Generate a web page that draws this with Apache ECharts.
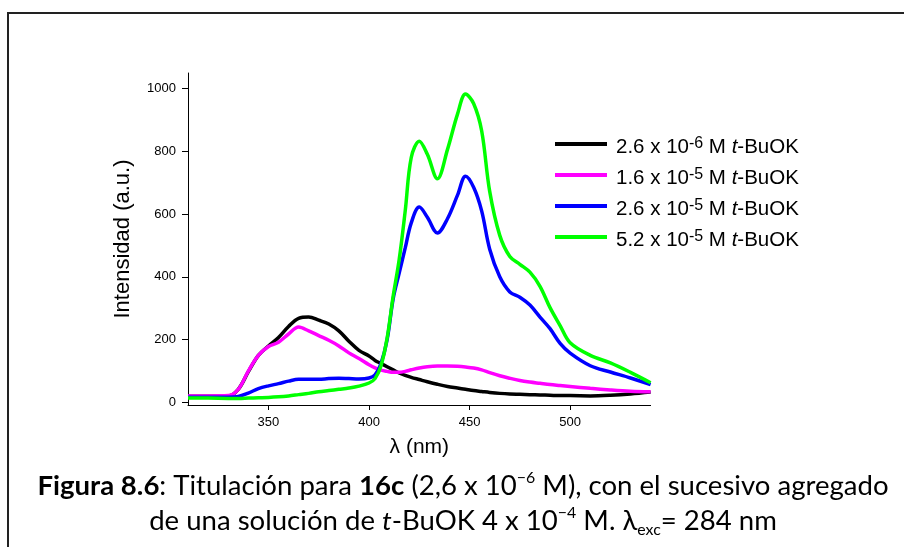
<!DOCTYPE html>
<html>
<head>
<meta charset="utf-8">
<script src="https://cdn.jsdelivr.net/npm/echarts@6/dist/echarts.min.js"></script>
<style>
  html, body { margin: 0; padding: 0; background: #fff; }
  #chart { width: 904px; height: 547px; }
</style>
</head>
<body>
<div id="chart"></div>
<script>
// ---- data ----
const wavelengths = [310,320,330,335,340,345,350,355,360,365,370,375,380,385,390,395,400,403,406,409,412,415,418,421,425,429,434,439,444,448,452,456,460,465,470,475,480,485,490,495,500,510,520,530,540];
const black26e6 = [20,20,21,42,98,150,180,207,242,268,272,262,250,228,195,166,148,134,124,114,104,94,86,80,73,66,58,51,46,42,38,35,32,29,27,26,25,24,23,22,22,21,23,27,33];
const magenta16e5 = [21,21,22,42,100,150,178,192,218,240,228,213,198,180,158,140,120,110,103,99,96,96,99,104,110,114,116,116,115,113,110,104,95,85,77,70,65,61,57,54,51,45,40,36,34];
const blue26e5 = [17,17,17,19,30,44,53,60,68,74,74,74,76,77,76,75,78,88,125,200,330,412,492,572,622,590,540,585,660,720,685,610,488,400,352,335,310,272,235,188,157,117,97,78,57];
const green52e5 = [14,14,13,13,14,15,16,18,21,25,29,34,38,42,46,52,62,76,118,205,338,455,610,780,832,790,712,805,918,982,952,865,672,532,465,440,415,370,302,245,190,150,126,96,63];

const concMantissa = ['2.6','1.6','2.6','5.2'];
const concExponent = ['-6','-5','-5','-5'];
const seriesColors = ['#000000','#ff00ff','#0000ff','#00ff00'];
const xTicks = [350,400,450,500];
const yTicks = [0,200,400,600,800,1000];

const seriesValues = [black26e6, magenta16e5, blue26e5, green52e5];
const seriesNames = concMantissa.map((m,i) => m + ' x 10^' + concExponent[i] + ' M t-BuOK');

const chart = echarts.init(document.getElementById('chart'), null, {renderer: 'canvas'});

const FONT = '"Liberation Sans", Arial, sans-serif';
const CAP = 'Lato, "Noto Sans", sans-serif';

const option = {
  backgroundColor: '#ffffff',
  animation: false,
  grid: { left: 188, right: 253.4, top: 73, bottom: 142 },
  legend: {
    orient: 'vertical',
    left: 555,
    top: 135.5,
    padding: 0,
    icon: 'rect',
    itemWidth: 52,
    itemHeight: 4,
    itemGap: 8.5,
    data: seriesNames,
    formatter: function (name) {
      const i = seriesNames.indexOf(name);
      return '{t|' + concMantissa[i] + ' x 10}{sup|' + concExponent[i] + '}{t| M }{it|t}{t|-BuOK}';
    },
    textStyle: {
      padding: [7, 0, 0, 4],
      rich: {
        t: { fontSize: 20.5, fontFamily: FONT, color: '#000', lineHeight: 24 },
        it: { fontSize: 20.5, fontFamily: FONT, color: '#000', fontStyle: 'italic', lineHeight: 24 },
        sup: { fontSize: 16, fontFamily: FONT, color: '#000', verticalAlign: 'top', lineHeight: 8 }
      }
    }
  },
  xAxis: {
    type: 'value',
    min: 310,
    max: 540,
    name: 'λ (nm)',
    nameLocation: 'middle',
    nameGap: 32,
    nameTextStyle: { fontSize: 21, fontFamily: FONT, color: '#000' },
    axisLine: { show: true, onZero: false, lineStyle: { color: '#000', width: 1 } },
    axisTick: { show: true, length: 5, lineStyle: { color: '#000' }, customValues: xTicks },
    axisLabel: { fontSize: 13, fontFamily: FONT, color: '#000', margin: 11, customValues: xTicks, formatter: v => String(v) },
    splitLine: { show: false }
  },
  yAxis: {
    type: 'value',
    min: -8,
    max: 1049,
    name: 'Intensidad (a.u.)',
    nameLocation: 'middle',
    nameGap: 54,
    nameTextStyle: { fontSize: 22, fontFamily: FONT, color: '#000' },
    axisLine: { show: true, onZero: false, lineStyle: { color: '#000', width: 1 } },
    axisTick: { show: true, length: 6, lineStyle: { color: '#000' }, customValues: yTicks },
    axisLabel: { fontSize: 13, fontFamily: FONT, color: '#000', margin: 12, customValues: yTicks, formatter: v => String(v) },
    splitLine: { show: false }
  },
  series: seriesValues.map((vals, i) => ({
    name: seriesNames[i],
    type: 'line',
    data: wavelengths.map((w, j) => [w, vals[j]]),
    symbol: 'none',
    smooth: 0.35,
    lineStyle: { color: seriesColors[i], width: 3.5 },
    itemStyle: { color: seriesColors[i] },
    z: 2 + i
  })),
  graphic: [
    {
      type: 'polyline',
      shape: { points: [[8, 547], [8, 13], [904, 13]] },
      style: { stroke: '#222', lineWidth: 2, fill: null },
      silent: true
    },
    {
      type: 'text',
      x: 463, y: 487,
      scaleX: 1.06,
      style: {
        text: '{b|Figura 8.6}{r|: Titulación para }{b|16c}{r| (2,6 x 10}{sup|−6}{r| M), con el sucesivo agregado}',
        align: 'center', verticalAlign: 'middle',
        rich: {
          r: { fontSize: 26, fontFamily: CAP, fill: '#000', lineHeight: 32 },
          b: { fontSize: 26, fontFamily: CAP, fill: '#000', fontWeight: 'bold', lineHeight: 32 },
          sup: { fontSize: 15, fontFamily: CAP, fill: '#000', verticalAlign: 'top', lineHeight: 15 }
        }
      }
    },
    {
      type: 'text',
      x: 463, y: 522,
      scaleX: 1.06,
      style: {
        text: '{r|de una solución de }{i|t}{r|-BuOK 4 x 10}{sup|−4}{r| M. λ}{sub|exc}{r|= 284 nm}',
        align: 'center', verticalAlign: 'middle',
        rich: {
          r: { fontSize: 26, fontFamily: CAP, fill: '#000', lineHeight: 32 },
          i: { fontSize: 26, fontFamily: CAP, fill: '#000', fontStyle: 'italic', lineHeight: 32 },
          sup: { fontSize: 15, fontFamily: CAP, fill: '#000', verticalAlign: 'top', lineHeight: 15 },
          sub: { fontSize: 15, fontFamily: CAP, fill: '#000', verticalAlign: 'bottom', lineHeight: 15 }
        }
      }
    }
  ]
};
chart.setOption(option);
</script>
</body>
</html>
